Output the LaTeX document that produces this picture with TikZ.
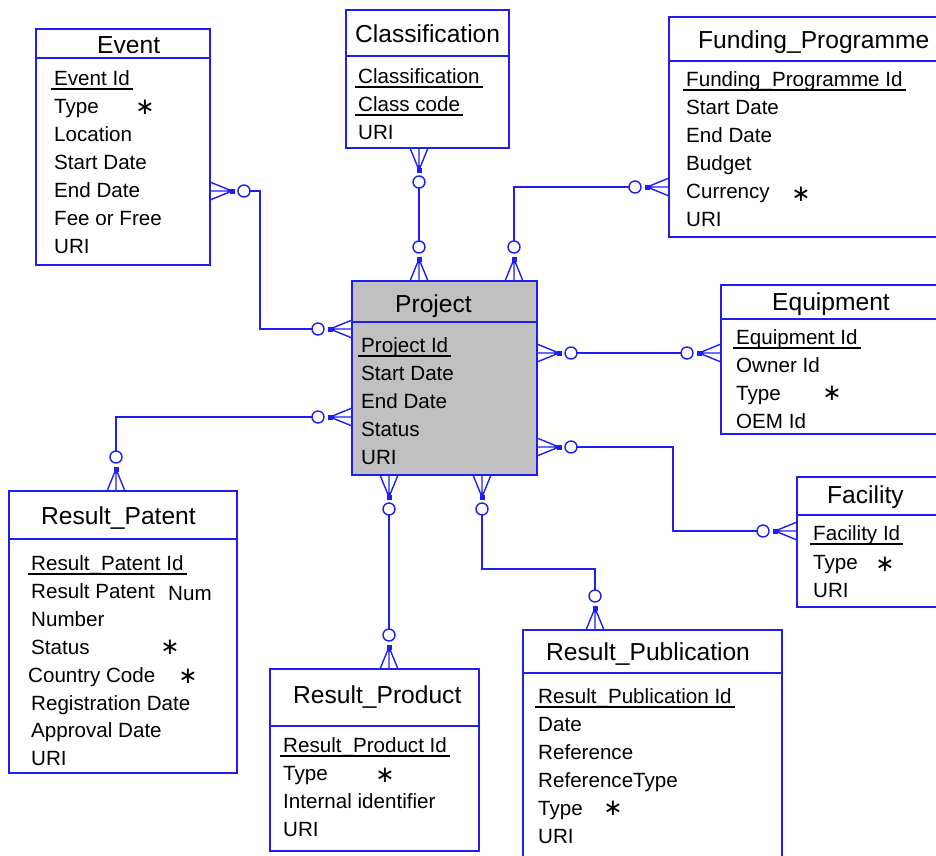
\documentclass[tikz,border=0pt]{standalone}
\usepackage{fontspec}
\setmainfont{Liberation Sans}
\newfontfamily\symfont{DejaVu Sans}
\definecolor{erblue}{RGB}{30,30,240}
\definecolor{projgray}{RGB}{192,192,192}

% crow's foot with optional circle, pointing away from the entity edge
\newcommand\erfoot[2]{%
  \begin{scope}[shift={(#1)},rotate=#2]
    \draw[foot] (0,9) -- (22,0) -- (0,-9) (0,0) -- (22,0);
    \fill[erblue] (19.5,-2.5) rectangle (24.5,2.5);
    \draw[foot,fill=white] (34,0) circle[radius=6];
  \end{scope}}
% plain attribute row
\newcommand\attrrow[4]{\node[attr] (#1) at (#2,#3) {#4};}
% primary key row, underlined
\newcommand\keyrow[4]{\node[attr] (#1) at (#2,#3) {#4};
  \draw[keyline] ([xshift=-3pt,yshift=-4pt]#1.base west) -- ([xshift=3pt,yshift=-4pt]#1.base east);}
% entity box with title separator
\newcommand\entitybox[7]{%
  \node[ent,fill=#7,anchor=north west,minimum width=#4pt,minimum height=#5pt] (#1) at (#2,#3) {};
  \draw[link] (#1.west |- 0,#6) -- (#1.east |- 0,#6);}

\begin{document}
\begin{tikzpicture}[x=1pt,y=-1pt,
  ent/.style={draw=erblue,line width=2pt,inner sep=0pt,outer sep=0pt},
  link/.style={draw=erblue,line width=2pt},
  foot/.style={draw=erblue,line width=1.4pt},
  keyline/.style={draw=black,line width=1.5pt},
  title/.style={anchor=base west,inner sep=0pt,font=\fontsize{24.6}{24.6}\selectfont},
  attr/.style={anchor=base west,inner sep=0pt,font=\fontsize{20.6}{20.6}\selectfont},
  star/.style={inner sep=0pt,font=\symfont\fontsize{23}{23}\selectfont},
]
\useasboundingbox (0,0) rectangle (936,855);
\clip (0,0) rectangle (936,855);

% ---------- entities ----------
\entitybox{event}{36}{29}{174}{236}{58}{white}
\node[title] (event-t) at (97,53) {Event};
\keyrow{ev1}{54}{85}{Event Id}
\attrrow{ev2}{54}{113}{Type}
\attrrow{ev3}{54}{141}{Location}
\attrrow{ev4}{54}{169}{Start Date}
\attrrow{ev5}{54}{197}{End Date}
\attrrow{ev6}{54}{225}{Fee or Free}
\attrrow{ev7}{54}{253}{URI}
\node[star] (ev-s) at (145,107) {∗};

\entitybox{class}{346}{10}{163}{138}{56}{white}
\node[title] (class-t) at (355,42) {Classification};
\keyrow{cl1}{358}{83}{Classification}
\keyrow{cl2}{358}{111}{Class code}
\attrrow{cl3}{358}{139}{URI}

\entitybox{fund}{669}{17}{300}{220}{61}{white}
\node[title] (fund-t) at (698,48) {Funding\_Programme};
\keyrow{fu1}{686}{86}{Funding\_Programme Id}
\attrrow{fu2}{686}{114}{Start Date}
\attrrow{fu3}{686}{142}{End Date}
\attrrow{fu4}{686}{170}{Budget}
\attrrow{fu5}{686}{198}{Currency}
\attrrow{fu6}{686}{226}{URI}
\node[star] (fu-s) at (801,194) {∗};

\entitybox{proj}{352}{281}{185}{194}{322}{projgray}
\node[title] (proj-t) at (395,312) {Project};
\keyrow{pj1}{361}{352}{Project Id}
\attrrow{pj2}{361}{380}{Start Date}
\attrrow{pj3}{361}{408}{End Date}
\attrrow{pj4}{361}{436}{Status}
\attrrow{pj5}{361}{464}{URI}

\entitybox{equip}{721}{285}{260}{149}{319}{white}
\node[title] (equip-t) at (772,310) {Equipment};
\keyrow{eq1}{736}{344}{Equipment Id}
\attrrow{eq2}{736}{372}{Owner Id}
\attrrow{eq3}{736}{400}{Type}
\attrrow{eq4}{736}{428}{OEM Id}
\node[star] (eq-s) at (832,393) {∗};

\entitybox{facil}{797}{477}{200}{130}{515}{white}
\node[title] (facil-t) at (827,503) {Facility};
\keyrow{fa1}{813}{540}{Facility Id}
\attrrow{fa2}{813}{569}{Type}
\attrrow{fa3}{813}{597}{URI}
\node[star] (fa-s) at (885,564) {∗};

\entitybox{patent}{9}{491}{228}{282}{539}{white}
\node[title] (patent-t) at (41,524) {Result\_Patent};
\keyrow{pa1}{31}{570}{Result\_Patent Id}
\attrrow{pa2}{31}{598}{Result Patent}
\attrrow{pa2b}{168}{600}{Num}
\attrrow{pa3}{31}{626}{Number}
\attrrow{pa4}{31}{654}{Status}
\attrrow{pa5}{28}{682}{Country Code}
\attrrow{pa6}{31}{710}{Registration Date}
\attrrow{pa7}{31}{737}{Approval Date}
\attrrow{pa8}{31}{765}{URI}
\node[star] (pa-s1) at (170,647) {∗};
\node[star] (pa-s2) at (188,676) {∗};

\entitybox{product}{270}{669}{209}{182}{726}{white}
\node[title] (product-t) at (293,703) {Result\_Product};
\keyrow{pr1}{283}{752}{Result\_Product Id}
\attrrow{pr2}{283}{780}{Type}
\attrrow{pr3}{283}{808}{Internal identifier}
\attrrow{pr4}{283}{836}{URI}
\node[star] (pr-s) at (385,775) {∗};

\entitybox{public}{523}{630}{259}{260}{673}{white}
\node[title] (public-t) at (546,660) {Result\_Publication};
\keyrow{pu1}{538}{703}{Result\_Publication Id}
\attrrow{pu2}{538}{731}{Date}
\attrrow{pu3}{538}{759}{Reference}
\attrrow{pu4}{538}{787}{ReferenceType}
\attrrow{pu5}{538}{815}{Type}
\attrrow{pu6}{538}{843}{URI}
\node[star] (pu-s) at (613,808) {∗};

% ---------- relationship end points ----------
\coordinate (ev-p) at (event.east |- 0,191);
\coordinate (pj-ev) at (proj.west |- 0,329);
\coordinate (cl-p) at (419,0 |- class.south);
\coordinate (pj-cl) at (419,0 |- proj.north);
\coordinate (fu-p) at (fund.west |- 0,187);
\coordinate (pj-fu) at (514,0 |- proj.north);
\coordinate (pj-eq) at (proj.east |- 0,353);
\coordinate (eq-p) at (equip.west |- 0,353);
\coordinate (pj-fa) at (proj.east |- 0,447);
\coordinate (fa-p) at (facil.west |- 0,531);
\coordinate (pj-pa) at (proj.west |- 0,417);
\coordinate (pa-p) at (116,0 |- patent.north);
\coordinate (pj-pr) at (389,0 |- proj.south);
\coordinate (pr-p) at (389,0 |- product.north);
\coordinate (pj-pu) at (482,0 |- proj.south);
\coordinate (pu-p) at (595,0 |- public.north);
% bend points
\coordinate (bend-ev) at (260,0);
\coordinate (bend-fa) at (673,0);
\coordinate (bend-pu) at (540,569);

% ---------- relationship lines ----------
\draw[link] ([xshift=40pt]ev-p) -| (bend-ev |- pj-ev) -- ([xshift=-40pt]pj-ev);
\draw[link] ([yshift=-40pt]cl-p) -- ([yshift=40pt]pj-cl);
\draw[link] ([xshift=-40pt]fu-p) -| ([yshift=40pt]pj-fu);
\draw[link] ([xshift=40pt]pj-eq) -- ([xshift=-40pt]eq-p);
\draw[link] ([xshift=40pt]pj-fa) -| (bend-fa |- fa-p) -- ([xshift=-40pt]fa-p);
\draw[link] ([xshift=-40pt]pj-pa) -| ([yshift=40pt]pa-p);
\draw[link] ([yshift=-40pt]pj-pr) -- ([yshift=40pt]pr-p);
\draw[link] ([yshift=-40pt]pj-pu) |- (bend-pu) -| ([yshift=40pt]pu-p);

% ---------- crow's feet ----------
\erfoot{ev-p}{0}
\erfoot{pj-ev}{180}
\erfoot{cl-p}{-90}
\erfoot{pj-cl}{90}
\erfoot{fu-p}{180}
\erfoot{pj-fu}{90}
\erfoot{pj-eq}{0}
\erfoot{eq-p}{180}
\erfoot{pj-fa}{0}
\erfoot{fa-p}{180}
\erfoot{pj-pa}{180}
\erfoot{pa-p}{90}
\erfoot{pj-pr}{-90}
\erfoot{pr-p}{90}
\erfoot{pj-pu}{-90}
\erfoot{pu-p}{90}
\end{tikzpicture}
\end{document}
